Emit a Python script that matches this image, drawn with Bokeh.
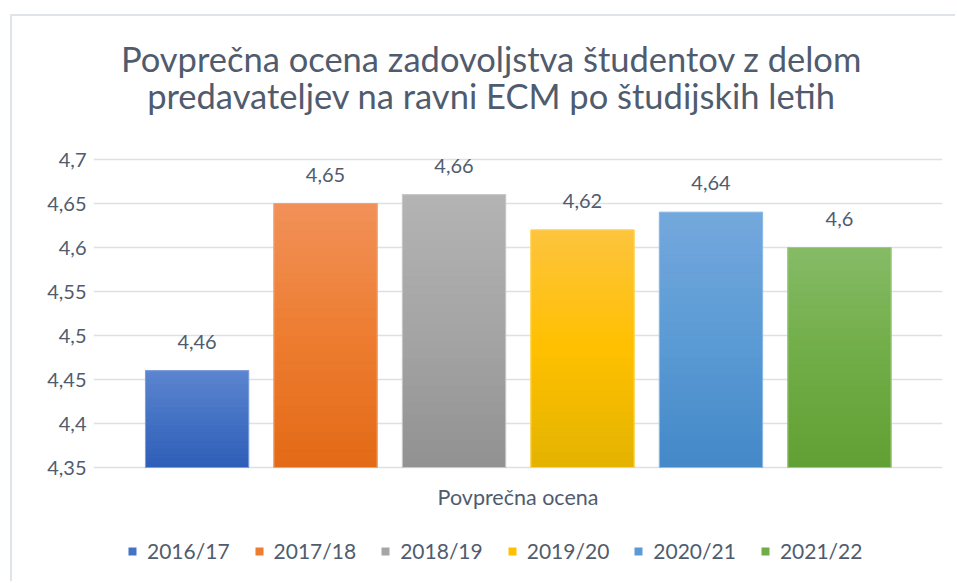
from bokeh.plotting import figure
from bokeh.models import (ColumnDataSource, FixedTicker, Legend, LegendItem,
                          Range1d, LabelSet, Label)
from bokeh.core.properties import value
from bokeh.embed import file_html
from bokeh.resources import INLINE

# ---- data ----
years = ["2016/17", "2017/18", "2018/19", "2019/20", "2020/21", "2021/22"]
scores = [4.46, 4.65, 4.66, 4.62, 4.64, 4.60]
score_labels = ["4,46", "4,65", "4,66", "4,62", "4,64", "4,6"]
y_ticks = [4.35, 4.40, 4.45, 4.50, 4.55, 4.60, 4.65, 4.70]
y_tick_labels = ["4,35", "4,4", "4,45", "4,5", "4,55", "4,6", "4,65", "4,7"]
category_label = "Povprečna ocena"
title_line1 = "Povprečna ocena zadovoljstva študentov z delom"
title_line2 = "predavateljev na ravni ECM po študijskih letih"

# ---- styles ----
mid_colors = ["#4472C4", "#ED7D31", "#A5A5A5", "#FFC000", "#5B9BD5", "#70AD47"]
top_colors = ["#5d85d0", "#f19159", "#b3b3b3", "#fec43e", "#74a8dd", "#86bb66"]
bot_colors = ["#2e5eb8", "#e36a16", "#919191", "#e3b300", "#4488c8", "#62a034"]
edge_colors = ["#7f9fdc", "#f5a36b", "#c8c8c8", "#ffd75e", "#8dbbe6", "#9ccc7c"]

FONT = "Lato"
TEXT = "#505c6e"
GRID = "#dce0e7"
BORDER = "#dfe3ea"

# ---- layout (page pixels) ----
OX, OY = 12, 16                 # canvas origin on the page (after margin + border)
W, H = 957 - OX, 583 - OY
FL, FR = 93 - OX, 942 - OX      # plot-area left / right (canvas px)
Y_TOP_PX, Y_BOT_PX = 159 - OY, 467 - OY
y_lo, y_hi = y_ticks[0], y_ticks[-1]
ppu_y = (Y_BOT_PX - Y_TOP_PX) / (y_hi - y_lo)
y_end = y_hi + Y_TOP_PX / ppu_y
y_start = y_lo - (H - Y_BOT_PX) / ppu_y
x_start, x_end = -0.806, len(years) - 1 + 0.802
ppu_x = (FR - FL) / (x_end - x_start)
BAR_W = 0.803


def xd(page_px):
    return x_start + (page_px - OX - FL) / ppu_x


def yd(page_py):
    return y_end - (page_py - OY) / ppu_y


def hex2rgb(h):
    h = h.lstrip("#")
    return [int(h[i:i + 2], 16) for i in (0, 2, 4)]


def lerp(c1, c2, t):
    a, b = hex2rgb(c1), hex2rgb(c2)
    return "#%02x%02x%02x" % tuple(int(round(a[i] + (b[i] - a[i]) * t)) for i in range(3))


src = ColumnDataSource(dict(
    x=list(range(len(years))), top=scores, year=years, lab=score_labels,
    fill=mid_colors, edge=edge_colors,
))

p = figure(width=W, height=H, output_backend="svg", toolbar_location=None,
           x_range=Range1d(x_start, x_end), y_range=Range1d(y_start, y_end),
           x_axis_location=None,
           min_border_left=FL, min_border_right=W - FR, min_border_top=0,
           min_border_bottom=0, outline_line_color=None)

# solid bars (also the legend swatches)
bars = p.vbar(x="x", top="top", bottom=y_lo, width=BAR_W, source=src,
              fill_color="fill", line_color=None)

# vertical gradient shading of each bar (style only; heights come from `scores`)
N = 30
gx, gb, gt, gc = [], [], [], []
for i, s in enumerate(scores):
    for k in range(N):
        b = y_lo + (s - y_lo) * k / N
        t = y_lo + (s - y_lo) * (k + 1) / N
        f = (k + 0.5) / N              # 0 = bottom, 1 = top
        if f < 0.5:
            col = lerp(bot_colors[i], mid_colors[i], f / 0.5)
        else:
            col = lerp(mid_colors[i], top_colors[i], (f - 0.5) / 0.5)
        gx.append(i); gb.append(b); gt.append(t); gc.append(col)
p.vbar(x=gx, bottom=gb, top=gt, width=BAR_W, fill_color=gc, line_color=gc,
       line_width=0.8)
p.vbar(x="x", top="top", bottom=y_lo, width=BAR_W, source=src,
       fill_color=None, line_color="edge", line_width=1)

p.add_layout(LabelSet(x="x", y="top", text="lab", source=src, text_align="center",
                      text_baseline="alphabetic", y_offset=22,
                      text_font=value(FONT), text_font_size="20px", text_color=TEXT))

# y axis
p.yaxis.ticker = FixedTicker(ticks=y_ticks)
p.yaxis.major_label_overrides = {t: l for t, l in zip(y_ticks, y_tick_labels)}
p.yaxis.axis_line_color = None
p.yaxis.major_tick_line_color = None
p.yaxis.minor_tick_line_color = None
p.yaxis.major_tick_out = 0
p.yaxis.major_label_standoff = 7
p.yaxis.major_label_text_font = FONT
p.yaxis.major_label_text_font_size = "20px"
p.yaxis.major_label_text_color = TEXT

p.xgrid.grid_line_color = None
p.ygrid.ticker = FixedTicker(ticks=y_ticks)
p.ygrid.grid_line_color = GRID
p.ygrid.grid_line_width = 1.5

# category axis label
p.add_layout(Label(x=xd(517.5), y=yd(496), text=category_label,
                   text_align="center", text_baseline="alphabetic",
                   text_font=FONT, text_font_size="21.5px", text_color=TEXT))

# titles
p.add_layout(Label(x=xd(491), y=yd(58), text=title_line1, text_align="center",
                   text_baseline="alphabetic", text_font=FONT,
                   text_font_size="34.5px", text_color=TEXT))
p.add_layout(Label(x=xd(491), y=yd(95), text=title_line2, text_align="center",
                   text_baseline="alphabetic", text_font=FONT,
                   text_font_size="34.5px", text_color=TEXT))

# legend
items = [LegendItem(label=years[i], renderers=[bars], index=i) for i in range(len(years))]
legend = Legend(items=items, orientation="horizontal", location=(127 - 93, 20),
                padding=0, margin=0, spacing=24, label_standoff=10,
                glyph_width=10, glyph_height=10, border_line_color=None,
                background_fill_alpha=0, label_text_font=FONT,
                label_text_font_size="21px", label_text_color=TEXT)
p.add_layout(legend, "center")

p.styles = {"margin-left": "10px", "margin-top": "14px",
            "border-left": "2px solid " + BORDER, "border-top": "2px solid " + BORDER}

open("out.html", "w").write(file_html(p, INLINE))
